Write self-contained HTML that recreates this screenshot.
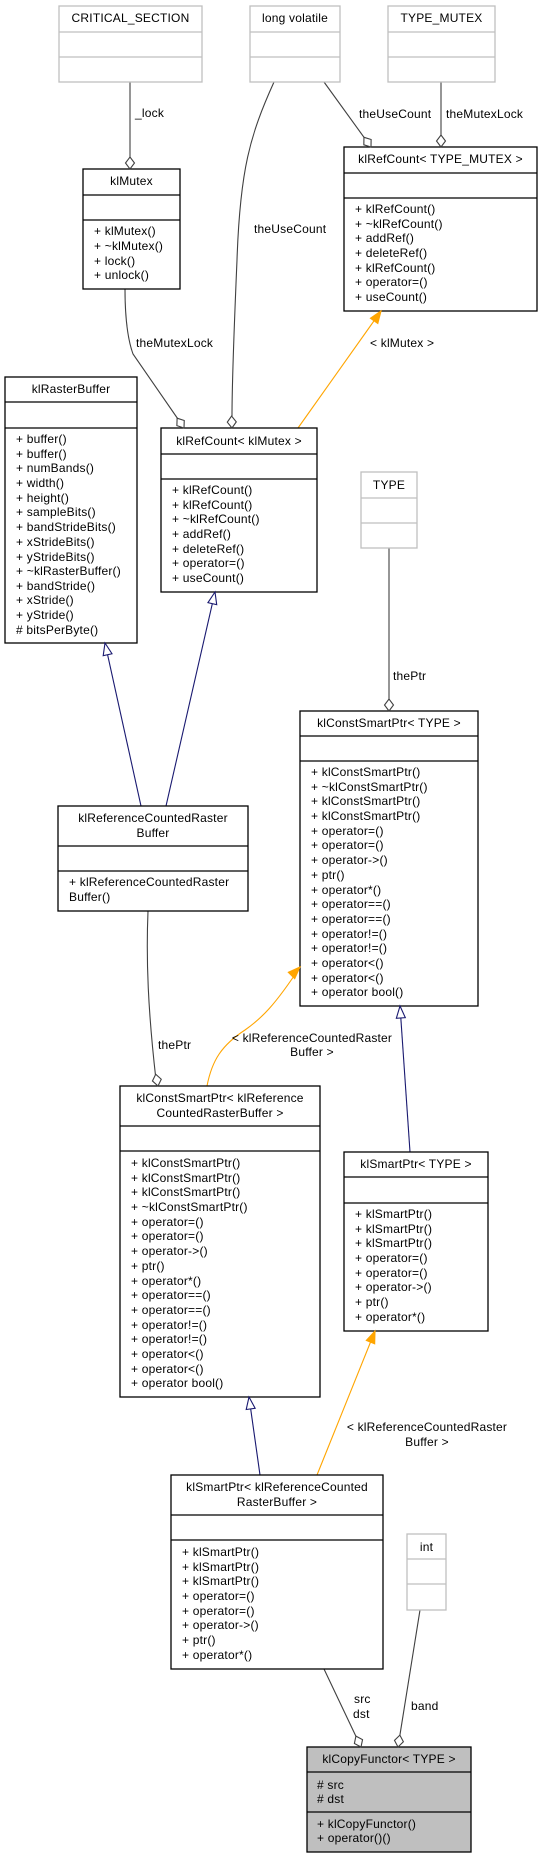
<!DOCTYPE html>
<html><head><meta charset="utf-8"><style>
html,body{margin:0;padding:0;background:#fff;}
svg{display:block;}
text{font-family:"Liberation Sans",Arial,sans-serif;font-size:12px;letter-spacing:0.2px;fill:#000;}
.t{text-anchor:middle;}
.b{fill:#fff;stroke:#000;stroke-width:1.3;}
.g{fill:#fff;stroke:#bfbfbf;stroke-width:1.3;}
.s{stroke:#000;stroke-width:1.3;}
.sg{stroke:#bfbfbf;stroke-width:1.3;}
.a{fill:none;stroke:#404040;stroke-width:1.1;}
.n{fill:none;stroke:#191970;stroke-width:1.1;}
.o{fill:none;stroke:#ffa500;stroke-width:1.1;}
.d{fill:#fff;stroke:#404040;stroke-width:1.1;}
.tn{fill:#fff;stroke:#191970;stroke-width:1.1;}
.to{fill:#ffa500;stroke:#ffa500;stroke-width:1.1;}
</style></head><body>
<svg width="541" height="1859" viewBox="0 0 541 1859" xmlns="http://www.w3.org/2000/svg">

<!-- connectors -->
<path class="a" d="M130,82 L130,169"/>
<path class="a" d="M324,82 L371,147"/>
<path class="a" d="M441,82 L441,147"/>
<path class="a" d="M274,82 C250,135 240,170 237,260 C234,330 232,380 232,416"/>
<path class="a" d="M125,289 C125,320 128,340 133,354 L180,422"/>
<path class="o" d="M298,428 L381,311"/>
<path class="n" d="M141,806 L105,643"/>
<path class="n" d="M166,806 L215,592"/>
<path class="a" d="M389,548 L389,711"/>
<path class="a" d="M148,911 C146,960 148,1010 156,1080"/>
<path class="o" d="M207,1086 C212,1060 222,1045 245,1030 C262,1018 275,1005 300,967"/>
<path class="n" d="M410,1152 L400,1006"/>
<path class="n" d="M260,1475 L249,1397"/>
<path class="o" d="M317,1475 L375,1331"/>
<path class="a" d="M324,1669 L361,1747"/>
<path class="a" d="M420,1610 L398,1747"/>

<!-- labels -->
<text x="135" y="117">_lock</text>
<text x="359" y="118">theUseCount</text>
<text x="446" y="118">theMutexLock</text>
<text x="254" y="233">theUseCount</text>
<text x="136" y="347">theMutexLock</text>
<text x="370" y="347">&lt; klMutex &gt;</text>
<text x="393" y="680">thePtr</text>
<text x="158" y="1049">thePtr</text>
<text class="t" x="312" y="1042">&lt; klReferenceCountedRaster</text>
<text class="t" x="312" y="1056">Buffer &gt;</text>
<text class="t" x="427" y="1431">&lt; klReferenceCountedRaster</text>
<text class="t" x="427" y="1446">Buffer &gt;</text>
<text x="354" y="1703">src</text>
<text x="353" y="1718">dst</text>
<text x="411" y="1710">band</text>

<!-- CRITICAL_SECTION -->
<rect class="g" x="59" y="6" width="143" height="76"/>
<line class="sg" x1="59" y1="32" x2="202" y2="32"/><line class="sg" x1="59" y1="57" x2="202" y2="57"/>
<text class="t" x="130.5" y="22">CRITICAL_SECTION</text>
<!-- long volatile -->
<rect class="g" x="250" y="6" width="90" height="76"/>
<line class="sg" x1="250" y1="32" x2="340" y2="32"/><line class="sg" x1="250" y1="57" x2="340" y2="57"/>
<text class="t" x="295" y="22">long volatile</text>
<!-- TYPE_MUTEX -->
<rect class="g" x="388" y="6" width="107" height="76"/>
<line class="sg" x1="388" y1="32" x2="495" y2="32"/><line class="sg" x1="388" y1="57" x2="495" y2="57"/>
<text class="t" x="441.5" y="22">TYPE_MUTEX</text>

<!-- klRefCount<TYPE_MUTEX> -->
<rect class="b" x="344" y="147" width="193" height="164"/>
<line class="s" x1="344" y1="173" x2="537" y2="173"/><line class="s" x1="344" y1="198" x2="537" y2="198"/>
<text class="t" x="440.5" y="163">klRefCount&lt; TYPE_MUTEX &gt;</text>
<text x="355" y="213">+ klRefCount()</text>
<text x="355" y="228">+ ~klRefCount()</text>
<text x="355" y="242">+ addRef()</text>
<text x="355" y="257">+ deleteRef()</text>
<text x="355" y="272">+ klRefCount()</text>
<text x="355" y="286">+ operator=()</text>
<text x="355" y="301">+ useCount()</text>

<!-- klMutex -->
<rect class="b" x="83" y="169" width="97" height="120"/>
<line class="s" x1="83" y1="195" x2="180" y2="195"/><line class="s" x1="83" y1="220" x2="180" y2="220"/>
<text class="t" x="131.5" y="185">klMutex</text>
<text x="94" y="235">+ klMutex()</text>
<text x="94" y="250">+ ~klMutex()</text>
<text x="94" y="265">+ lock()</text>
<text x="94" y="279">+ unlock()</text>

<!-- klRasterBuffer -->
<rect class="b" x="5" y="377" width="132" height="266"/>
<line class="s" x1="5" y1="402" x2="137" y2="402"/><line class="s" x1="5" y1="428" x2="137" y2="428"/>
<text class="t" x="71" y="393">klRasterBuffer</text>
<text x="16" y="443">+ buffer()</text>
<text x="16" y="458">+ buffer()</text>
<text x="16" y="472">+ numBands()</text>
<text x="16" y="487">+ width()</text>
<text x="16" y="502">+ height()</text>
<text x="16" y="516">+ sampleBits()</text>
<text x="16" y="531">+ bandStrideBits()</text>
<text x="16" y="546">+ xStrideBits()</text>
<text x="16" y="561">+ yStrideBits()</text>
<text x="16" y="575">+ ~klRasterBuffer()</text>
<text x="16" y="590">+ bandStride()</text>
<text x="16" y="604">+ xStride()</text>
<text x="16" y="619">+ yStride()</text>
<text x="16" y="634"># bitsPerByte()</text>

<!-- klRefCount<klMutex> -->
<rect class="b" x="161" y="428" width="156" height="164"/>
<line class="s" x1="161" y1="454" x2="317" y2="454"/><line class="s" x1="161" y1="479" x2="317" y2="479"/>
<text class="t" x="239" y="445">klRefCount&lt; klMutex &gt;</text>
<text x="172" y="494">+ klRefCount()</text>
<text x="172" y="509">+ klRefCount()</text>
<text x="172" y="523">+ ~klRefCount()</text>
<text x="172" y="538">+ addRef()</text>
<text x="172" y="553">+ deleteRef()</text>
<text x="172" y="567">+ operator=()</text>
<text x="172" y="582">+ useCount()</text>

<!-- TYPE -->
<rect class="g" x="361" y="472" width="56" height="76"/>
<line class="sg" x1="361" y1="498" x2="417" y2="498"/><line class="sg" x1="361" y1="523" x2="417" y2="523"/>
<text class="t" x="389" y="489">TYPE</text>

<!-- klConstSmartPtr<TYPE> -->
<rect class="b" x="300" y="711" width="178" height="295"/>
<line class="s" x1="300" y1="736" x2="478" y2="736"/><line class="s" x1="300" y1="761" x2="478" y2="761"/>
<text class="t" x="389" y="727">klConstSmartPtr&lt; TYPE &gt;</text>
<text x="311" y="776">+ klConstSmartPtr()</text>
<text x="311" y="791">+ ~klConstSmartPtr()</text>
<text x="311" y="805">+ klConstSmartPtr()</text>
<text x="311" y="820">+ klConstSmartPtr()</text>
<text x="311" y="835">+ operator=()</text>
<text x="311" y="849">+ operator=()</text>
<text x="311" y="864">+ operator-&gt;()</text>
<text x="311" y="879">+ ptr()</text>
<text x="311" y="894">+ operator*()</text>
<text x="311" y="908">+ operator==()</text>
<text x="311" y="923">+ operator==()</text>
<text x="311" y="938">+ operator!=()</text>
<text x="311" y="952">+ operator!=()</text>
<text x="311" y="967">+ operator&lt;()</text>
<text x="311" y="982">+ operator&lt;()</text>
<text x="311" y="996">+ operator bool()</text>

<!-- klReferenceCountedRasterBuffer -->
<rect class="b" x="58" y="806" width="190" height="105"/>
<line class="s" x1="58" y1="846" x2="248" y2="846"/><line class="s" x1="58" y1="871" x2="248" y2="871"/>
<text class="t" x="153" y="822">klReferenceCountedRaster</text>
<text class="t" x="153" y="837">Buffer</text>
<text x="69" y="886">+ klReferenceCountedRaster</text>
<text x="69" y="901">Buffer()</text>

<!-- klConstSmartPtr<klRef..> -->
<rect class="b" x="120" y="1086" width="200" height="311"/>
<line class="s" x1="120" y1="1126" x2="320" y2="1126"/><line class="s" x1="120" y1="1151" x2="320" y2="1151"/>
<text class="t" x="220" y="1102">klConstSmartPtr&lt; klReference</text>
<text class="t" x="220" y="1117">CountedRasterBuffer &gt;</text>
<text x="131" y="1167">+ klConstSmartPtr()</text>
<text x="131" y="1182">+ klConstSmartPtr()</text>
<text x="131" y="1196">+ klConstSmartPtr()</text>
<text x="131" y="1211">+ ~klConstSmartPtr()</text>
<text x="131" y="1226">+ operator=()</text>
<text x="131" y="1240">+ operator=()</text>
<text x="131" y="1255">+ operator-&gt;()</text>
<text x="131" y="1270">+ ptr()</text>
<text x="131" y="1285">+ operator*()</text>
<text x="131" y="1299">+ operator==()</text>
<text x="131" y="1314">+ operator==()</text>
<text x="131" y="1329">+ operator!=()</text>
<text x="131" y="1343">+ operator!=()</text>
<text x="131" y="1358">+ operator&lt;()</text>
<text x="131" y="1373">+ operator&lt;()</text>
<text x="131" y="1387">+ operator bool()</text>

<!-- klSmartPtr<TYPE> -->
<rect class="b" x="344" y="1152" width="144" height="179"/>
<line class="s" x1="344" y1="1177" x2="488" y2="1177"/><line class="s" x1="344" y1="1203" x2="488" y2="1203"/>
<text class="t" x="416" y="1168">klSmartPtr&lt; TYPE &gt;</text>
<text x="355" y="1218">+ klSmartPtr()</text>
<text x="355" y="1233">+ klSmartPtr()</text>
<text x="355" y="1247">+ klSmartPtr()</text>
<text x="355" y="1262">+ operator=()</text>
<text x="355" y="1277">+ operator=()</text>
<text x="355" y="1291">+ operator-&gt;()</text>
<text x="355" y="1306">+ ptr()</text>
<text x="355" y="1321">+ operator*()</text>

<!-- klSmartPtr<klRef..> -->
<rect class="b" x="171" y="1475" width="212" height="194"/>
<line class="s" x1="171" y1="1515" x2="383" y2="1515"/><line class="s" x1="171" y1="1540" x2="383" y2="1540"/>
<text class="t" x="277" y="1491">klSmartPtr&lt; klReferenceCounted</text>
<text class="t" x="277" y="1506">RasterBuffer &gt;</text>
<text x="182" y="1556">+ klSmartPtr()</text>
<text x="182" y="1571">+ klSmartPtr()</text>
<text x="182" y="1585">+ klSmartPtr()</text>
<text x="182" y="1600">+ operator=()</text>
<text x="182" y="1615">+ operator=()</text>
<text x="182" y="1629">+ operator-&gt;()</text>
<text x="182" y="1644">+ ptr()</text>
<text x="182" y="1659">+ operator*()</text>

<!-- int -->
<rect class="g" x="407" y="1534" width="39" height="76"/>
<line class="sg" x1="407" y1="1559" x2="446" y2="1559"/><line class="sg" x1="407" y1="1584" x2="446" y2="1584"/>
<text class="t" x="426.5" y="1551">int</text>

<!-- klCopyFunctor -->
<rect x="307" y="1747" width="164" height="105" fill="#bfbfbf" stroke="#000" stroke-width="1.3"/>
<line class="s" x1="307" y1="1772" x2="471" y2="1772"/><line class="s" x1="307" y1="1812" x2="471" y2="1812"/>
<text class="t" x="389" y="1763">klCopyFunctor&lt; TYPE &gt;</text>
<text x="317" y="1789"># src</text>
<text x="317" y="1803"># dst</text>
<text x="317" y="1828">+ klCopyFunctor()</text>
<text x="317" y="1842">+ operator()()</text>

<!-- diamonds -->
<g transform="translate(130,169)"><polygon class="d" points="0,0 -4.5,-6 0,-12 4.5,-6"/></g>
<g transform="translate(441,147)"><polygon class="d" points="0,0 -4.5,-6 0,-12 4.5,-6"/></g>
<g transform="translate(371,147) rotate(-36)"><polygon class="d" points="0,0 -4.5,-6 0,-12 4.5,-6"/></g>
<g transform="translate(232,428) rotate(-2)"><polygon class="d" points="0,0 -4.5,-6 0,-12 4.5,-6"/></g>
<g transform="translate(184,428) rotate(-35)"><polygon class="d" points="0,0 -4.5,-6 0,-12 4.5,-6"/></g>
<g transform="translate(389,711)"><polygon class="d" points="0,0 -4.5,-6 0,-12 4.5,-6"/></g>
<g transform="translate(158,1086) rotate(-11)"><polygon class="d" points="0,0 -4.5,-6 0,-12 4.5,-6"/></g>
<g transform="translate(361,1747) rotate(-25)"><polygon class="d" points="0,0 -4.5,-6 0,-12 4.5,-6"/></g>
<g transform="translate(398,1747) rotate(9)"><polygon class="d" points="0,0 -4.5,-6 0,-12 4.5,-6"/></g>

<!-- inheritance arrows -->
<g transform="translate(105,643) rotate(-12.5)"><polygon class="tn" points="0,0 -4.5,12 4.5,12"/></g>
<g transform="translate(215,592) rotate(12.9)"><polygon class="tn" points="0,0 -4.5,12 4.5,12"/></g>
<g transform="translate(400,1006) rotate(-4)"><polygon class="tn" points="0,0 -4.5,12 4.5,12"/></g>
<g transform="translate(249,1397) rotate(-8)"><polygon class="tn" points="0,0 -4.5,12 4.5,12"/></g>
<g transform="translate(381,311) rotate(35)"><polygon class="to" points="0,0 -4.5,12 4.5,12"/></g>
<g transform="translate(300,967) rotate(45)"><polygon class="to" points="0,0 -4.5,12 4.5,12"/></g>
<g transform="translate(375,1331) rotate(22)"><polygon class="to" points="0,0 -4.5,12 4.5,12"/></g>
</svg>
</body></html>
